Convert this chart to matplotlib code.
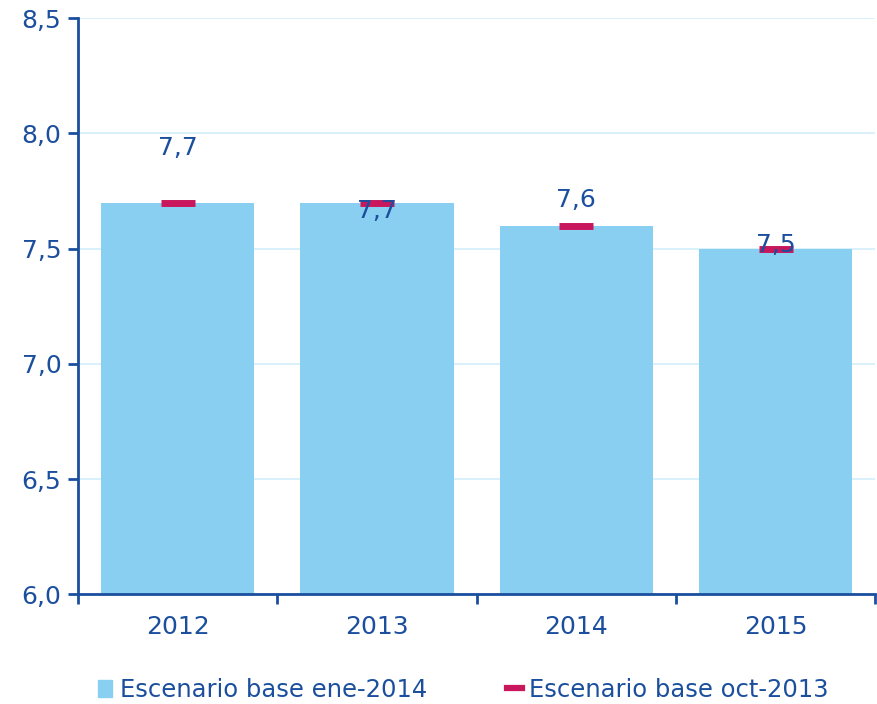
import matplotlib
matplotlib.use("Agg")
import matplotlib.pyplot as plt
from matplotlib.lines import Line2D
from matplotlib.patches import Patch

# datos
years = ["2012", "2013", "2014", "2015"]
base_ene2014 = [7.7, 7.7, 7.6, 7.5]
base_oct2013 = [7.7, 7.7, 7.6, 7.5]
etiquetas = ["7,7", "7,7", "7,6", "7,5"]

# desplazamiento vertical de las etiquetas (como en el original)
label_offset = [0.235, -0.035, 0.11, 0.015]

azul_barra = "#89CFF1"
rojo = "#C8175D"
azul_texto = "#1B4F9E"
rejilla = "#D3EEF9"

plt.rcParams["font.family"] = ["DejaVu Sans"]

fig = plt.figure(figsize=(8.77, 7.04), dpi=100)
ax = fig.add_axes([0.089, 0.156, 0.909, 0.818])

x = list(range(len(years)))
ax.bar(x, base_ene2014, width=0.77, bottom=0, color=azul_barra, zorder=2)
ax.plot(x, base_oct2013, linestyle="none", marker="_", markersize=24,
        markeredgewidth=5, color=rojo, zorder=3)

for xi, v, lab, off in zip(x, base_oct2013, etiquetas, label_offset):
    ax.text(xi, v + off, lab, ha="center", va="center", fontsize=18,
            color=azul_texto, zorder=4)

ax.set_ylim(6.0, 8.5)
ax.set_xlim(-0.5, 3.5)
ax.set_yticks([6.0, 6.5, 7.0, 7.5, 8.0, 8.5])
ax.set_yticklabels(["6,0", "6,5", "7,0", "7,5", "8,0", "8,5"])
ax.set_xticks(x)
ax.set_xticklabels(years)
ax.set_xticks([-0.5, 0.5, 1.5, 2.5, 3.5], minor=True)

ax.grid(axis="y", color=rejilla, linewidth=1.2, zorder=0)
ax.set_axisbelow(True)

for s in ["top", "right"]:
    ax.spines[s].set_visible(False)
for s in ["left", "bottom"]:
    ax.spines[s].set_color(azul_texto)
    ax.spines[s].set_linewidth(2)

ax.tick_params(axis="y", colors=azul_texto, labelsize=18, length=7, width=2, pad=5)
ax.tick_params(axis="x", which="major", length=0, colors=azul_texto, labelsize=18, pad=15)
ax.tick_params(axis="x", which="minor", length=7, width=2, color=azul_texto)

handles = [Patch(color=azul_barra),
           Line2D([], [], color=rojo, linewidth=4.5)]
leg = fig.legend(handles, ["Escenario base ene-2014", "Escenario base oct-2013"],
                 loc="lower center", bbox_to_anchor=(0.528, -0.028), ncol=2,
                 frameon=False, fontsize=17.5, handlelength=0.6, handletextpad=0.3,
                 columnspacing=3.3)
for t in leg.get_texts():
    t.set_color(azul_texto)

fig.savefig("out.png", dpi=100)
